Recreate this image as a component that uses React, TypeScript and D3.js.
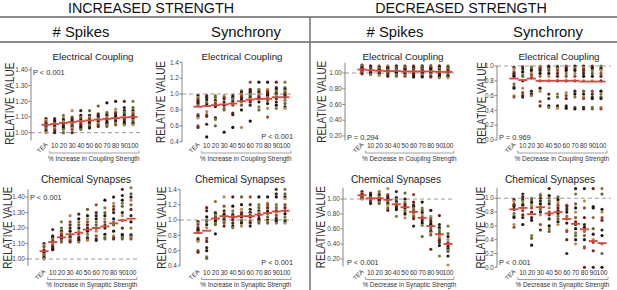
import React from 'react';
import * as d3 from 'd3';

const CATEGORIES = ['TEA', '10', '20', '30', '40', '50', '60', '70', '80', '90', '100'];

// Increased strength, # spikes, electrical coupling
const incSpikesElecPts: number[][] = [
  [1.09, 1.08, 1.07, 1.06, 1.05, 1.04, 1.03, 1.02, 1.01, 1.0],
  [1.09, 1.08, 1.07, 1.06, 1.05, 1.04, 1.03, 1.02, 1.01, 1.0],
  [1.11, 1.09, 1.08, 1.07, 1.06, 1.05, 1.04, 1.03, 1.02, 1.0],
  [1.14, 1.1, 1.09, 1.08, 1.07, 1.06, 1.05, 1.04, 1.03, 1.02, 1.0],
  [1.14, 1.11, 1.1, 1.09, 1.08, 1.07, 1.06, 1.05, 1.04, 1.03, 1.02],
  [1.14, 1.11, 1.1, 1.09, 1.08, 1.07, 1.06, 1.05, 1.04, 1.03],
  [1.17, 1.12, 1.11, 1.1, 1.09, 1.08, 1.07, 1.06, 1.05, 1.04],
  [1.19, 1.13, 1.12, 1.11, 1.1, 1.09, 1.08, 1.07, 1.06, 1.05, 1.04],
  [1.2, 1.15, 1.13, 1.12, 1.11, 1.1, 1.09, 1.08, 1.07, 1.06, 1.05],
  [1.2, 1.16, 1.14, 1.13, 1.12, 1.11, 1.1, 1.09, 1.08, 1.07, 1.06, 1.05],
  [1.2, 1.16, 1.14, 1.13, 1.12, 1.11, 1.1, 1.09, 1.08, 1.07, 1.06, 1.05],
];
const incSpikesElecMeans = [1.05, 1.055, 1.062, 1.068, 1.073, 1.078, 1.083, 1.088, 1.093, 1.097, 1.1];

// Increased strength, synchrony, electrical coupling
const incSyncElecPts: number[][] = [
  [0.98, 0.96, 0.94, 0.92, 0.9, 0.88, 0.86, 0.74, 0.72, 0.7, 0.6, 0.58],
  [0.98, 0.96, 0.93, 0.9, 0.88, 0.86, 0.78, 0.74, 0.72, 0.62, 0.46],
  [0.98, 0.96, 0.92, 0.9, 0.88, 0.86, 0.84, 0.7, 0.68, 0.6],
  [0.98, 0.96, 0.94, 0.9, 0.86, 0.82, 0.8, 0.52],
  [0.98, 0.96, 0.94, 0.92, 0.9, 0.88, 0.86, 0.76, 0.74, 0.58],
  [1.04, 1.02, 1.0, 0.98, 0.96, 0.94, 0.92, 0.9, 0.86, 0.8, 0.58],
  [1.15, 1.06, 1.04, 1.02, 1.0, 0.98, 0.96, 0.94, 0.92, 0.9, 0.86, 0.66],
  [1.15, 1.06, 1.04, 1.02, 1.0, 0.98, 0.96, 0.94, 0.9, 0.84, 0.8],
  [1.15, 1.06, 1.04, 1.02, 1.0, 0.98, 0.96, 0.92, 0.88, 0.82, 0.71],
  [1.15, 1.08, 1.06, 1.04, 1.02, 1.0, 0.98, 0.96, 0.94, 0.9, 0.86, 0.82],
  [1.15, 1.08, 1.06, 1.04, 1.02, 1.0, 0.98, 0.96, 0.92, 0.88, 0.84, 0.82],
];
const incSyncElecMeans = [0.84, 0.85, 0.86, 0.87, 0.88, 0.91, 0.93, 0.94, 0.94, 0.96, 0.96];

// Decreased strength, # spikes, electrical coupling
const decSpikesElecPts: number[][] = [
  [1.1, 1.09, 1.08, 1.07, 1.06, 1.05, 1.04, 1.03, 1.02, 1.01, 1.0, 0.99],
  [1.09, 1.08, 1.07, 1.06, 1.05, 1.04, 1.03, 1.02, 1.01, 1.0, 0.99, 0.98],
  [1.09, 1.08, 1.07, 1.06, 1.05, 1.04, 1.03, 1.02, 1.01, 1.0, 0.99, 0.97],
  [1.09, 1.08, 1.07, 1.06, 1.05, 1.04, 1.03, 1.02, 1.01, 1.0, 0.98, 0.96],
  [1.09, 1.08, 1.07, 1.06, 1.05, 1.04, 1.03, 1.02, 1.01, 1.0, 0.98, 0.96],
  [1.09, 1.08, 1.07, 1.06, 1.05, 1.04, 1.03, 1.02, 1.0, 0.99, 0.97, 0.96],
  [1.09, 1.08, 1.07, 1.06, 1.05, 1.04, 1.03, 1.02, 1.0, 0.99, 0.97, 0.95],
  [1.09, 1.08, 1.07, 1.06, 1.05, 1.04, 1.03, 1.01, 1.0, 0.98, 0.96, 0.95],
  [1.09, 1.08, 1.07, 1.06, 1.05, 1.04, 1.02, 1.01, 1.0, 0.98, 0.96, 0.95],
  [1.09, 1.08, 1.07, 1.06, 1.05, 1.03, 1.02, 1.01, 0.99, 0.98, 0.96, 0.94],
  [1.09, 1.08, 1.07, 1.06, 1.05, 1.03, 1.02, 1.01, 0.99, 0.97, 0.96, 0.94],
];
const decSpikesElecMeans = [1.045, 1.035, 1.03, 1.025, 1.025, 1.02, 1.02, 1.02, 1.02, 1.015, 1.015];

// Decreased strength, synchrony, electrical coupling
const decSyncElecPts: number[][] = [
  [0.98, 0.96, 0.92, 0.9, 0.88, 0.86, 0.76, 0.72, 0.7, 0.6, 0.58],
  [0.99, 0.96, 0.92, 0.88, 0.86, 0.8, 0.7, 0.64, 0.6, 0.58],
  [0.99, 0.96, 0.94, 0.9, 0.88, 0.84, 0.66, 0.62, 0.6],
  [1.0, 0.98, 0.96, 0.94, 0.9, 0.86, 0.8, 0.7, 0.66, 0.52, 0.46],
  [1.0, 0.98, 0.96, 0.94, 0.9, 0.86, 0.8, 0.62, 0.56, 0.46, 0.44],
  [1.0, 0.98, 0.96, 0.94, 0.9, 0.86, 0.8, 0.62, 0.58, 0.46, 0.43],
  [1.0, 0.98, 0.96, 0.94, 0.9, 0.86, 0.8, 0.64, 0.6, 0.56, 0.46, 0.43],
  [1.0, 0.98, 0.96, 0.94, 0.9, 0.86, 0.8, 0.66, 0.62, 0.58, 0.44, 0.42],
  [1.0, 0.98, 0.96, 0.94, 0.9, 0.86, 0.8, 0.66, 0.62, 0.58, 0.56, 0.44, 0.42],
  [1.0, 0.98, 0.96, 0.94, 0.9, 0.86, 0.8, 0.66, 0.62, 0.58, 0.56, 0.44, 0.42],
  [1.0, 0.98, 0.96, 0.94, 0.9, 0.86, 0.8, 0.66, 0.62, 0.58, 0.56, 0.44, 0.42],
];
const decSyncElecMeans = [0.83, 0.81, 0.83, 0.8, 0.8, 0.8, 0.8, 0.8, 0.79, 0.79, 0.79];

// Increased strength, # spikes, chemical synapses
const incSpikesChemPts: number[][] = [
  [1.1, 1.09, 1.08, 1.06, 1.05, 1.04, 1.03, 1.02, 1.01, 1.0],
  [1.19, 1.15, 1.14, 1.13, 1.12, 1.11, 1.1, 1.09, 1.08, 1.07, 1.06],
  [1.24, 1.2, 1.18, 1.17, 1.16, 1.15, 1.14, 1.13, 1.12, 1.11],
  [1.28, 1.24, 1.22, 1.2, 1.18, 1.16, 1.15, 1.14, 1.13, 1.12, 1.11],
  [1.29, 1.26, 1.24, 1.22, 1.2, 1.18, 1.16, 1.14, 1.13, 1.12, 1.11],
  [1.32, 1.28, 1.26, 1.24, 1.22, 1.2, 1.18, 1.16, 1.14, 1.13, 1.12],
  [1.35, 1.3, 1.28, 1.26, 1.24, 1.22, 1.2, 1.18, 1.15, 1.13, 1.12],
  [1.38, 1.33, 1.3, 1.28, 1.26, 1.24, 1.22, 1.2, 1.16, 1.14, 1.13],
  [1.4, 1.36, 1.34, 1.32, 1.3, 1.26, 1.24, 1.22, 1.18, 1.15, 1.14, 1.13],
  [1.45, 1.41, 1.38, 1.36, 1.34, 1.3, 1.28, 1.25, 1.2, 1.16, 1.15, 1.14, 1.13],
  [1.46, 1.42, 1.4, 1.38, 1.35, 1.32, 1.28, 1.24, 1.2, 1.16, 1.15, 1.14, 1.13],
];
const incSpikesChemMeans = [1.05, 1.11, 1.14, 1.16, 1.17, 1.19, 1.2, 1.21, 1.23, 1.25, 1.26];

// Increased strength, synchrony, chemical synapses
const incSyncChemPts: number[][] = [
  [0.98, 0.96, 0.94, 0.9, 0.88, 0.86, 0.84, 0.76, 0.74, 0.72, 0.6, 0.58],
  [1.16, 1.12, 1.04, 1.0, 0.98, 0.94, 0.9, 0.76, 0.72, 0.64, 0.6, 0.52, 0.5],
  [1.24, 1.1, 1.08, 1.06, 1.04, 1.02, 1.0, 0.98, 0.96, 0.94, 0.82],
  [1.3, 1.18, 1.12, 1.08, 1.06, 1.04, 1.02, 1.0, 0.98, 0.96, 0.92],
  [1.3, 1.18, 1.12, 1.08, 1.06, 1.04, 1.02, 1.0, 0.96, 0.92, 0.9],
  [1.3, 1.2, 1.14, 1.1, 1.08, 1.06, 1.04, 1.0, 0.98, 0.96, 0.92],
  [1.3, 1.2, 1.14, 1.1, 1.08, 1.06, 1.04, 1.0, 0.98, 0.96, 0.92],
  [1.3, 1.2, 1.16, 1.12, 1.1, 1.08, 1.06, 1.02, 1.0, 0.98, 0.96],
  [1.3, 1.22, 1.2, 1.16, 1.12, 1.1, 1.08, 1.04, 1.0, 0.98, 0.96],
  [1.4, 1.34, 1.3, 1.2, 1.16, 1.12, 1.1, 1.06, 1.02, 1.0, 0.98, 0.96],
  [1.4, 1.34, 1.3, 1.28, 1.2, 1.16, 1.12, 1.08, 1.04, 1.0, 0.98, 0.96],
];
const incSyncChemMeans = [0.83, 0.86, 1.02, 1.05, 1.04, 1.05, 1.05, 1.07, 1.09, 1.11, 1.12];

// Decreased strength, # spikes, chemical synapses
const decSpikesChemPts: number[][] = [
  [1.1, 1.08, 1.07, 1.06, 1.05, 1.04, 1.03, 1.02, 1.01, 1.0],
  [1.08, 1.06, 1.04, 1.02, 1.01, 1.0, 0.99, 0.98, 0.96, 0.94],
  [1.1, 1.07, 1.05, 1.03, 1.01, 1.0, 0.99, 0.98, 0.96, 0.94],
  [1.14, 1.06, 1.04, 1.02, 1.0, 0.98, 0.96, 0.94, 0.92, 0.88, 0.85],
  [1.1, 1.02, 1.0, 0.98, 0.96, 0.94, 0.92, 0.9, 0.88, 0.86, 0.77],
  [1.08, 1.0, 0.96, 0.94, 0.92, 0.9, 0.88, 0.85, 0.82, 0.8, 0.75],
  [1.06, 0.96, 0.92, 0.9, 0.88, 0.85, 0.82, 0.8, 0.77, 0.74, 0.64],
  [0.96, 0.88, 0.85, 0.82, 0.79, 0.76, 0.74, 0.71, 0.68, 0.65, 0.5],
  [0.85, 0.77, 0.74, 0.71, 0.68, 0.66, 0.63, 0.6, 0.57, 0.55, 0.52, 0.33],
  [0.78, 0.66, 0.62, 0.59, 0.56, 0.53, 0.5, 0.47, 0.45, 0.42, 0.38, 0.24],
  [0.64, 0.54, 0.5, 0.46, 0.42, 0.4, 0.37, 0.34, 0.32, 0.3, 0.24, 0.12],
];
const decSpikesChemMeans = [1.05, 1.01, 1.01, 0.99, 0.93, 0.89, 0.83, 0.75, 0.64, 0.53, 0.4];

// Decreased strength, synchrony, chemical synapses
const decSyncChemPts: number[][] = [
  [0.98, 0.96, 0.92, 0.9, 0.88, 0.84, 0.78, 0.74, 0.72, 0.62, 0.58],
  [1.06, 1.02, 0.98, 0.96, 0.92, 0.9, 0.86, 0.82, 0.76, 0.72, 0.62],
  [1.0, 0.98, 0.94, 0.9, 0.86, 0.8, 0.72, 0.68, 0.46, 0.42, 0.32],
  [1.06, 1.04, 1.0, 0.96, 0.92, 0.88, 0.84, 0.8, 0.76, 0.62, 0.54],
  [1.14, 1.04, 1.0, 0.96, 0.92, 0.86, 0.8, 0.76, 0.7, 0.6, 0.56, 0.52],
  [1.02, 0.98, 0.94, 0.9, 0.86, 0.82, 0.78, 0.74, 0.7, 0.66, 0.62],
  [0.9, 0.88, 0.84, 0.8, 0.74, 0.7, 0.64, 0.54, 0.52, 0.4, 0.2],
  [1.14, 1.06, 0.92, 0.86, 0.8, 0.72, 0.66, 0.62, 0.56, 0.5, 0.46, 0.4, 0.34],
  [1.14, 0.96, 0.86, 0.72, 0.62, 0.58, 0.52, 0.46, 0.4, 0.3, 0.28, 0.0],
  [1.14, 0.88, 0.86, 0.72, 0.56, 0.48, 0.4, 0.36, 0.24, 0.0],
  [1.14, 1.06, 0.84, 0.8, 0.72, 0.68, 0.54, 0.46, 0.34, 0.2, 0.0],
];
const decSyncChemMeans = [0.84, 0.86, 0.77, 0.87, 0.78, 0.8, 0.7, 0.63, 0.55, 0.38, 0.35];

const TICKS_INC_SPIKES = [1.0, 1.1, 1.2, 1.3, 1.4];
const TICKS_SYNC_INC = [0.4, 0.6, 0.8, 1.0, 1.2, 1.4];
const TICKS_DEC_SPIKES = [0.2, 0.4, 0.6, 0.8, 1.0];
const TICKS_SYNC_DEC = [0.0, 0.2, 0.4, 0.6, 0.8, 1.0];

const DOT_COLORS = ['#2a1a12', '#6e2418', '#857a3e', '#b98a52', '#3b2818', '#5f6a35', '#9b4a2a', '#1c130d'];

type Panel = {
  title: string;
  pts: number[][];
  means: number[];
  ticks: number[];
  fmt: string;
  domain: [number, number];
  yRange: [number, number];
  axisX: number;
  x0: number;
  x1: number;
  dashEnd: number;
  titleX: number;
  relX: number;
  row: number;
  pText: string;
  pX: number;
  pY: number;
  pAnchor: string;
  xTitle: string;
};

const ROWS = [
  { titleY: 60, titleSize: 9.8, labelY: 148, bracketY: 153, xTitleY: 161 },
  { titleY: 183, titleSize: 10.2, labelY: 275, bracketY: 279.5, xTitleY: 287 },
];

const panels: Panel[] = [
  { title: 'Electrical Coupling', pts: incSpikesElecPts, means: incSpikesElecMeans, ticks: TICKS_INC_SPIKES, fmt: '.2f', domain: [0.95, 1.42], yRange: [140.5, 66.8], axisX: 31, x0: 46, x1: 133, dashEnd: 141, titleX: 93, relX: 9.5, row: 0, pText: 'P < 0.001', pX: 33, pY: 75, pAnchor: 'start', xTitle: '% Increase in Coupling Strength' },
  { title: 'Electrical Coupling', pts: incSyncElecPts, means: incSyncElecMeans, ticks: TICKS_SYNC_INC, fmt: '.1f', domain: [0.4, 1.4], yRange: [141.7, 62.3], axisX: 182, x0: 198, x1: 285, dashEnd: 293, titleX: 242, relX: 160, row: 0, pText: 'P < 0.001', pX: 293, pY: 139, pAnchor: 'end', xTitle: '% Increase in Coupling Strength' },
  { title: 'Electrical Coupling', pts: decSpikesElecPts, means: decSpikesElecMeans, ticks: TICKS_DEC_SPIKES, fmt: '.2f', domain: [0.14, 1.13], yRange: [140.7, 62.8], axisX: 345, x0: 362, x1: 448, dashEnd: 457, titleX: 403, relX: 321, row: 0, pText: 'P = 0.294', pX: 347, pY: 140, pAnchor: 'start', xTitle: '% Decrease in Coupling Strength' },
  { title: 'Electrical Coupling', pts: decSyncElecPts, means: decSyncElecMeans, ticks: TICKS_SYNC_DEC, fmt: '.1f', domain: [0, 1.0], yRange: [140, 66], axisX: 497, x0: 514, x1: 601, dashEnd: 611, titleX: 559, relX: 481, row: 0, pText: 'P = 0.969', pX: 499, pY: 140, pAnchor: 'start', xTitle: '% Decrease in Coupling Strength' },
  { title: 'Chemical Synapses', pts: incSpikesChemPts, means: incSpikesChemMeans, ticks: TICKS_INC_SPIKES, fmt: '.2f', domain: [0.955, 1.45], yRange: [266, 189.3], axisX: 28, x0: 44, x1: 131, dashEnd: 140, titleX: 86, relX: 7.5, row: 1, pText: 'P < 0.001', pX: 30, pY: 200, pAnchor: 'start', xTitle: '% Increase in Synaptic Strength' },
  { title: 'Chemical Synapses', pts: incSyncChemPts, means: incSyncChemMeans, ticks: TICKS_SYNC_INC, fmt: '.1f', domain: [0.4, 1.4], yRange: [266, 189.3], axisX: 180, x0: 198, x1: 285, dashEnd: 293, titleX: 240, relX: 161, row: 1, pText: 'P < 0.001', pX: 293, pY: 265, pAnchor: 'end', xTitle: '% Increase in Synaptic Strength' },
  { title: 'Chemical Synapses', pts: decSpikesChemPts, means: decSpikesChemMeans, ticks: TICKS_DEC_SPIKES, fmt: '.2f', domain: [0.1, 1.15], yRange: [266.5, 187.8], axisX: 343, x0: 362, x1: 448, dashEnd: 455, titleX: 396, relX: 320, row: 1, pText: 'P < 0.001', pX: 347, pY: 265, pAnchor: 'start', xTitle: '% Decrease in Synaptic Strength' },
  { title: 'Chemical Synapses', pts: decSyncChemPts, means: decSyncChemMeans, ticks: TICKS_SYNC_DEC, fmt: '.1f', domain: [0, 1.15], yRange: [267.3, 187.9], axisX: 497, x0: 514, x1: 602, dashEnd: 611, titleX: 550, relX: 480, row: 1, pText: 'P < 0.001', pX: 499, pY: 265, pAnchor: 'start', xTitle: '% Decrease in Synaptic Strength' },
];

const FONT = '"Liberation Sans", Arial, sans-serif';

function PanelView({ p }: { p: Panel }) {
  const row = ROWS[p.row];
  const x = d3.scalePoint<string>().domain(CATEGORIES).range([p.x0, p.x1]);
  const y = d3.scaleLinear().domain(p.domain).range(p.yRange);
  const fmt = d3.format(p.fmt);
  const x10 = x('10') as number;
  const x100 = x('100') as number;
  const teaX = x('TEA') as number;
  const relCenter = (p.yRange[0] + p.yRange[1]) / 2;
  return (
    <g>
      <text x={p.titleX} y={row.titleY} textAnchor="middle" fontSize={row.titleSize} fill="#222">{p.title}</text>
      <text transform={`translate(${p.relX + 4.5},${relCenter}) rotate(-90)`} textAnchor="middle" fontSize={12} fill="#333" textLength={82} lengthAdjust="spacingAndGlyphs">RELATIVE VALUE</text>
      <line x1={p.axisX} x2={p.dashEnd} y1={y(1)} y2={y(1)} stroke="#9a9a9a" strokeWidth={1} strokeDasharray="4,3" />
      <line x1={p.axisX} x2={p.axisX} y1={p.yRange[0]} y2={p.yRange[1]} stroke="#777" strokeWidth={0.9} />
      {p.ticks.map((t) => (
        <g key={t}>
          <line x1={p.axisX - 2.5} x2={p.axisX} y1={y(t)} y2={y(t)} stroke="#777" strokeWidth={0.9} />
          <text x={p.axisX - 3.2} y={y(t)} dy="0.35em" textAnchor="end" fontSize={6.4} fill="#444">{fmt(t)}</text>
        </g>
      ))}
      {p.pts.map((col, ci) =>
        col.map((v, i) => (
          <circle key={`${ci}-${i}`} cx={x(CATEGORIES[ci]) as number} cy={y(v)} r={1.6} fill={DOT_COLORS[(i * 3 + ci) % DOT_COLORS.length]} />
        ))
      )}
      {p.means.map((m, ci) => (
        <rect key={`m${ci}`} x={(x(CATEGORIES[ci]) as number) - 4.5} y={y(m) - 0.9} width={9} height={1.8} fill="#e5403a" />
      ))}
      {CATEGORIES.slice(1).map((c) => (
        <text key={c} x={x(c) as number} y={row.labelY} textAnchor="middle" fontSize={6.6} fill="#333">{c}</text>
      ))}
      <text transform={`translate(${teaX + 2},${row.labelY - 3}) rotate(-45)`} textAnchor="end" fontSize={6.2} fill="#333">TEA</text>
      <path d={`M${x10 - 5},${row.bracketY - 2.5}V${row.bracketY}H${x100 + 6}V${row.bracketY - 2.5}`} fill="none" stroke="#888" strokeWidth={0.8} />
      <text x={(x10 + x100) / 2} y={row.xTitleY} textAnchor="middle" fontSize={6.4} fill="#333">{p.xTitle}</text>
      <text x={p.pX} y={p.pY} textAnchor={p.pAnchor as any} fontSize={7.4} fill="#333">{p.pText}</text>
    </g>
  );
}

const HEADERS = ['INCREASED STRENGTH', 'DECREASED STRENGTH'];
const SUBHEADERS = ['# Spikes', 'Synchrony', '# Spikes', 'Synchrony'];

export default function App() {
  return (
    <svg width={617} height={290} style={{ position: 'absolute', left: 0, top: 0, background: '#fff' }} fontFamily={FONT}>
      <rect x={0} y={0} width={617} height={290} fill="#fff" />
      <text x={151} y={13} textAnchor="middle" fontSize={14.3} fill="#111">{HEADERS[0]}</text>
      <text x={461} y={13} textAnchor="middle" fontSize={14.3} fill="#111">{HEADERS[1]}</text>
      <line x1={0} x2={617} y1={17} y2={17} stroke="#666" strokeWidth={1.4} />
      <line x1={0} x2={617} y1={42} y2={42} stroke="#666" strokeWidth={1.4} />
      <line x1={310} x2={310} y1={17} y2={290} stroke="#777" strokeWidth={1.6} />
      {[81, 246, 395, 548].map((cx, i) => (
        <text key={i} x={cx} y={37} textAnchor="middle" fontSize={14.8} fill="#111">{SUBHEADERS[i]}</text>
      ))}
      {panels.map((p, i) => (
        <PanelView key={i} p={p} />
      ))}
    </svg>
  );
}
